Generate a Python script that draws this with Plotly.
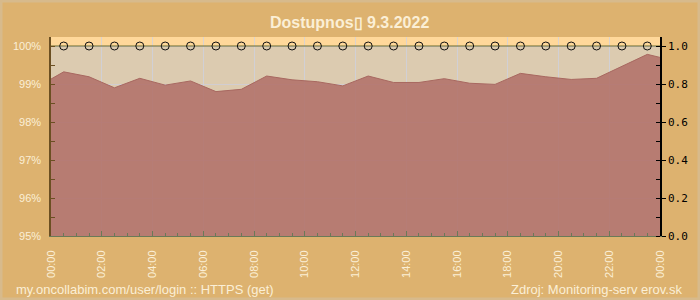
import plotly.graph_objects as go

# ---- data ----
hours = [0, 0.5, 1.5, 2.5, 3.5, 4.5, 5.5, 6.5, 7.5, 8.5, 9.5, 10.5, 11.5,
         12.5, 13.5, 14.5, 15.5, 16.5, 17.5, 18.5, 19.5, 20.5, 21.5, 22.5, 23.5, 24]
uptime_pct = [99.13, 99.32, 99.19, 98.90, 99.15, 98.97, 99.08, 98.80, 98.86, 99.21,
              99.11, 99.06, 98.95, 99.21, 99.04, 99.04, 99.14, 99.02, 98.99, 99.28,
              99.19, 99.12, 99.15, 99.47, 99.78, 99.70]
check_hours = [h + 0.5 for h in range(24)]
check_avail = [1.0] * 24
line_hours = [0, 24]
line_avail = [1.0, 1.0]
xtick_vals = list(range(0, 25, 2))
xtick_text = ["00:00", "02:00", "04:00", "06:00", "08:00", "10:00", "12:00",
              "14:00", "16:00", "18:00", "20:00", "22:00", "00:00"]
ytick_vals = [95, 96, 97, 98, 99, 100]
ytick_text = ["95%", "96%", "97%", "98%", "99%", "100%"]
y2tick_vals = [0.0, 0.2, 0.4, 0.6, 0.8, 1.0]
y2tick_text = ["0.0", "0.2", "0.4", "0.6", "0.8", "1.0"]

title = "Dostupnos\u25af 9.3.2022"
left_note = "my.oncollabim.com/user/login :: HTTPS (get)"
right_note = "Zdroj: Monitoring-serv erov.sk"

cream = "#fbefd6"
font = "Liberation Sans"

fig = go.Figure()

fig.add_trace(go.Scatter(
    x=hours, y=uptime_pct, mode="lines", fill="tozeroy",
    line=dict(color="#a86860", width=1),
    fillcolor="rgba(179,115,108,0.9)",
    hoverinfo="skip", showlegend=False, yaxis="y"))

fig.add_trace(go.Scatter(
    x=line_hours, y=line_avail, mode="lines",
    line=dict(color="#6b6a2c", width=1.2),
    hoverinfo="skip", showlegend=False, yaxis="y2"))

fig.add_trace(go.Scatter(
    x=check_hours, y=check_avail, mode="markers",
    marker=dict(symbol="circle-open", size=8, color="#111111", line=dict(width=1)),
    hoverinfo="skip", showlegend=False, yaxis="y2"))

ymax = 100 + 9 / 38
y2max = 1 + 9 / 190

fig.update_layout(
    width=700, height=300,
    margin=dict(l=51, r=40, t=37, b=64),
    paper_bgcolor="#ddb26f",
    plot_bgcolor="#ffd89a",
    xaxis=dict(
        range=[0, 24], tickvals=xtick_vals, ticktext=xtick_text,
        tickangle=-90, ticks="inside", ticklen=5, tickcolor="#6a7a58",
        showline=True, linecolor="#6a7a58", linewidth=1,
        showgrid=True, gridcolor="rgba(205,210,225,0.75)", gridwidth=1,
        zeroline=False, ticklabelstandoff=9,
        minor=dict(dtick=0.5, ticks="inside", ticklen=3, tickcolor="#6a7a58", showgrid=False),
        tickfont=dict(family=font, size=11, color=cream),
    ),
    yaxis=dict(
        range=[95, ymax], tickvals=ytick_vals, ticktext=ytick_text,
        ticks="inside", ticklen=4, tickcolor="#6b4f22",
        showline=True, linecolor="#6b4f22", linewidth=1.5,
        showgrid=True, gridcolor="rgba(205,205,220,0.75)", gridwidth=1,
        zeroline=False, ticklabelstandoff=6,
        minor=dict(dtick=0.5, ticks="inside", ticklen=4, tickcolor="#6b4f22", showgrid=False),
        tickfont=dict(family=font, size=11, color=cream),
    ),
    yaxis2=dict(
        range=[0, y2max], overlaying="y", side="right",
        tickvals=y2tick_vals, ticktext=y2tick_text,
        ticks="outside", ticklen=4, tickcolor="#000000",
        showline=True, linecolor="#000000", linewidth=1.5,
        showgrid=False, zeroline=False,
        minor=dict(dtick=0.1, ticks="inside", ticklen=4, tickcolor="#000000"),
        tickfont=dict(family="DejaVu Sans Mono", size=11, color="#000000"),
    ),
    shapes=[
        dict(type="rect", xref="x", yref="y", x0=0, x1=24, y0=95, y1=100,
             fillcolor="#dccbb0", line=dict(width=0), layer="below"),
        dict(type="rect", xref="paper", yref="paper", x0=-51/609, x1=1 + 40/609,
             y0=-64/199, y1=1 + 37/199,
             fillcolor="rgba(0,0,0,0)", line=dict(color="#d7ba8c", width=5), layer="below"),
    ],
    annotations=[
        dict(text="<b>" + title + "</b>", xref="paper", yref="paper",
             x=(349 - 51) / 609, y=1 + (37 - 22) / 199, xanchor="center", yanchor="middle",
             showarrow=False, font=dict(family=font, size=16, color=cream)),
        dict(text=left_note, xref="paper", yref="paper",
             x=(14 - 51) / 609, y=-(289 - 236) / 199, xanchor="left", yanchor="middle",
             showarrow=False, font=dict(family=font, size=13, color=cream)),
        dict(text=right_note, xref="paper", yref="paper",
             x=(684 - 51) / 609, y=-(289 - 236) / 199, xanchor="right", yanchor="middle",
             showarrow=False, font=dict(family=font, size=13, color=cream)),
    ],
)

fig.write_html("out.html")
